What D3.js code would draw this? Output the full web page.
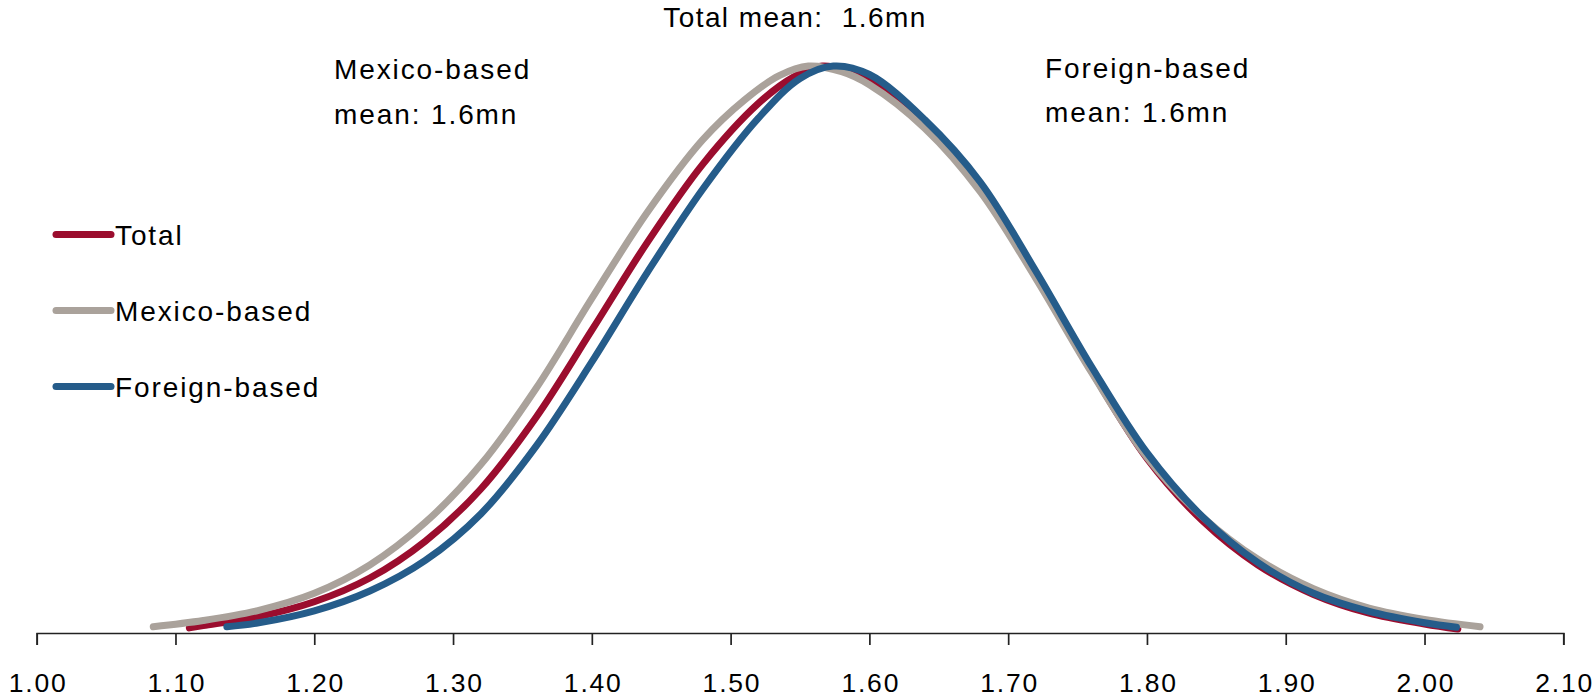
<!DOCTYPE html>
<html>
<head>
<meta charset="utf-8">
<script src="https://cdn.jsdelivr.net/npm/d3@7"></script>
<style>
  html, body { margin: 0; padding: 0; background: #fff; }
  svg text { font-family: "Liberation Sans", Arial, sans-serif; fill: #000; white-space: pre; }
</style>
</head>
<body>
<svg id="chart" width="1595" height="700"></svg>
<script>
// ---- data ----
const seriesNames = ["Total", "Mexico-based", "Foreign-based"];
const seriesColors = ["#9b0d2e", "#aaa29b", "#255c8a"];

// x = value (mn), y = relative density (peak = 1)
const totalX = [1.110,1.120,1.160,1.200,1.240,1.280,1.320,1.360,1.400,1.440,1.480,1.520,1.545,1.566,1.600,1.640,1.680,1.720,1.760,1.800,1.840,1.880,1.920,1.960,2.000,2.024];
const totalY = [0.009,0.013,0.029,0.055,0.097,0.162,0.254,0.381,0.534,0.689,0.827,0.934,0.980,1.000,0.975,0.897,0.785,0.628,0.462,0.308,0.198,0.120,0.068,0.035,0.016,0.007];

const mexicoX = [1.084,1.120,1.160,1.200,1.240,1.280,1.320,1.360,1.400,1.440,1.480,1.510,1.535,1.556,1.580,1.600,1.640,1.680,1.720,1.760,1.800,1.840,1.880,1.920,1.960,2.000,2.040];
const mexicoY = [0.011,0.022,0.040,0.070,0.120,0.195,0.297,0.432,0.590,0.742,0.870,0.940,0.983,1.000,0.990,0.967,0.890,0.778,0.625,0.460,0.310,0.205,0.130,0.078,0.044,0.024,0.011];

const foreignX = [1.137,1.160,1.200,1.240,1.280,1.320,1.360,1.400,1.440,1.480,1.520,1.550,1.574,1.600,1.640,1.680,1.720,1.760,1.800,1.840,1.880,1.920,1.960,2.000,2.023];
const foreignY = [0.011,0.018,0.039,0.074,0.128,0.210,0.330,0.478,0.636,0.783,0.908,0.978,1.000,0.985,0.905,0.795,0.638,0.470,0.318,0.205,0.124,0.070,0.038,0.018,0.010];

const xTicks = [1.00,1.10,1.20,1.30,1.40,1.50,1.60,1.70,1.80,1.90,2.00,2.10];

const totalLabel = "Total mean:  1.6mn";
const mexicoLabel = ["Mexico-based", "mean: 1.6mn"];
const foreignLabel = ["Foreign-based", "mean: 1.6mn"];

// ---- drawing ----
const svg = d3.select("#chart");
const x = d3.scaleLinear().domain([1.0, 2.1]).range([36.7, 1563.3]);
const y = d3.scaleLinear().domain([0, 1]).range([633, 66]);

const series = [
  { name: seriesNames[0], color: seriesColors[0], pts: totalX.map((v,i)=>[v,totalY[i]]) },
  { name: seriesNames[1], color: seriesColors[1], pts: mexicoX.map((v,i)=>[v,mexicoY[i]]) },
  { name: seriesNames[2], color: seriesColors[2], pts: foreignX.map((v,i)=>[v,foreignY[i]]) }
];

// axis
const axis = d3.axisBottom(x).tickValues(xTicks).tickFormat(d3.format(".2f")).tickSize(12).tickPadding(28);
const gAxis = svg.append("g").attr("transform", "translate(0,633)").call(axis);
gAxis.select(".domain").attr("stroke", "#222").attr("stroke-width", 1.7);
gAxis.selectAll(".tick line").attr("stroke", "#222").attr("stroke-width", 1.7);
gAxis.selectAll(".tick text")
  .attr("font-size", 26.5)
  .attr("letter-spacing", "1.8px")
  .attr("dx", "0.9px")
  .attr("fill", "#000")
  .style("font-family", '"Liberation Sans", Arial, sans-serif');

// lines
const line = d3.line().x(d => x(d[0])).y(d => y(d[1])).curve(d3.curveCatmullRom.alpha(0.5));
svg.append("g").selectAll("path").data(series).join("path")
  .attr("d", d => line(d.pts))
  .attr("fill", "none")
  .attr("stroke", d => d.color)
  .attr("stroke-width", 7)
  .attr("stroke-linecap", "round")
  .attr("stroke-linejoin", "round");

// legend
const legend = svg.append("g");
series.forEach((s, i) => {
  const ly = 234.5 + i * 76;
  legend.append("line").attr("x1", 56).attr("x2", 111).attr("y1", ly).attr("y2", ly)
    .attr("stroke", s.color).attr("stroke-width", 7).attr("stroke-linecap", "round");
  legend.append("text").attr("x", 115).attr("y", ly + 10.5)
    .attr("font-size", 28).attr("letter-spacing", "1.9px").text(s.name);
});

// annotations
svg.append("text").attr("x", 795).attr("y", 27).attr("text-anchor", "middle")
  .attr("font-size", 28).attr("letter-spacing", "1.4px").attr("xml:space", "preserve").text(totalLabel);

mexicoLabel.forEach((t, i) => {
  svg.append("text").attr("x", 334).attr("y", 79 + i * 44.5)
    .attr("font-size", 28).attr("letter-spacing", "1.9px").text(t);
});
foreignLabel.forEach((t, i) => {
  svg.append("text").attr("x", 1045).attr("y", 77.5 + i * 44.5)
    .attr("font-size", 28).attr("letter-spacing", "1.9px").text(t);
});
</script>
</body>
</html>
